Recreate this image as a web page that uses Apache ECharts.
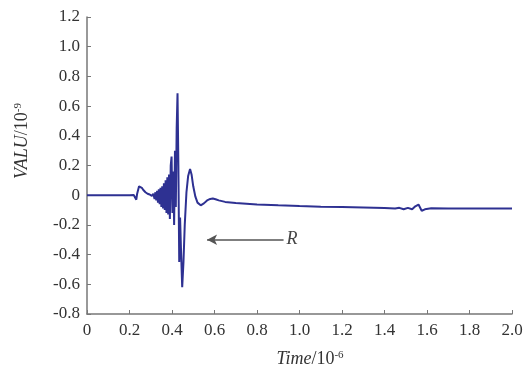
<!DOCTYPE html>
<html>
<head>
<meta charset="utf-8">
<script src="https://cdn.jsdelivr.net/npm/echarts@6/dist/echarts.min.js"></script>
<style>
  html, body { margin: 0; padding: 0; background: #fff; }
  #main { width: 528px; height: 369px; }
</style>
</head>
<body>
<div id="main"></div>
<script>
// time in units of 1e-6
var times = [0, 0.1, 0.2, 0.22, 0.228, 0.232, 0.236, 0.245, 0.252, 0.258, 0.265, 0.275, 0.285, 0.295,
  0.305, 0.312, 0.318, 0.322, 0.326, 0.33, 0.334, 0.338, 0.342, 0.346, 0.35, 0.354, 0.358, 0.362,
  0.366, 0.37, 0.374, 0.378, 0.382, 0.386, 0.39, 0.394, 0.398, 0.402, 0.406, 0.41, 0.414, 0.418,
  0.422, 0.426, 0.43, 0.434, 0.438, 0.442, 0.448, 0.454, 0.46, 0.468, 0.476, 0.485, 0.492, 0.5,
  0.51, 0.52, 0.535, 0.55, 0.565, 0.58, 0.592, 0.605, 0.62, 0.65, 0.7, 0.8, 0.9, 1.0, 1.1, 1.2,
  1.3, 1.4, 1.45, 1.47, 1.49, 1.51, 1.53, 1.545, 1.56, 1.575, 1.59, 1.62, 1.7, 1.8, 1.9, 2.0];
// values in units of 1e-9
var values = [0, 0, 0, 0.002, -0.01, -0.03, 0.01, 0.06, 0.068, 0.05, 0.035, 0.02, 0.01, 0.005,
  -0.005, 0.01, -0.025, 0.02, -0.035, 0.03, -0.05, 0.04, -0.06, 0.05, -0.08, 0.06, -0.09, 0.08,
  -0.1, 0.1, -0.12, 0.12, -0.13, 0.14, -0.16, 0.2, 0.26, -0.12, 0.16, -0.2, 0.3, -0.08,
  0.45, 0.687, 0.2, -0.45, -0.15, -0.35, -0.62, -0.45, -0.2, 0.02, 0.13, 0.176, 0.14, 0.06,
  -0.01, -0.05, -0.068, -0.055, -0.035, -0.025, -0.022, -0.027, -0.035, -0.045, -0.052, -0.062, -0.068, -0.073, -0.077, -0.08,
  -0.083, -0.086, -0.09, -0.085, -0.095, -0.085, -0.095, -0.075, -0.063, -0.105, -0.095, -0.088, -0.09, -0.09, -0.09, -0.09];

var xRange = [0, 2.0];
var yRange = [-0.8, 1.2];
var arrowFrom = [0.925, -0.3];
var arrowTo = [0.565, -0.3];
var arrowLabelAt = [0.965, -0.3];

var serif = "'Liberation Serif', 'Times New Roman', serif";
var fmt = function (v) { return Math.abs(v) < 1e-9 ? '0' : v.toFixed(1); };

var chart = echarts.init(document.getElementById('main'));
chart.setOption({
  animation: false,
  backgroundColor: '#fff',
  grid: { left: 87, right: 16, top: 17, bottom: 55 },
  xAxis: {
    type: 'value', min: xRange[0], max: xRange[1], interval: 0.2,
    axisLine: { show: true, onZero: false, lineStyle: { color: '#777', width: 1.5 } },
    axisTick: { show: true, inside: true, length: 4, lineStyle: { color: '#777' } },
    splitLine: { show: false },
    axisLabel: { formatter: fmt, color: '#333', fontFamily: serif, fontSize: 17, margin: 8 }
  },
  yAxis: {
    type: 'value', min: yRange[0], max: yRange[1], interval: 0.2,
    axisLine: { show: true, onZero: false, lineStyle: { color: '#777', width: 1.5 } },
    axisTick: { show: true, inside: true, length: 4, lineStyle: { color: '#777' } },
    splitLine: { show: false },
    axisLabel: { formatter: fmt, color: '#333', fontFamily: serif, fontSize: 17, margin: 7 }
  },
  graphic: [
    {
      type: 'text', x: 22, y: 141, rotation: Math.PI / 2,
      style: {
        text: '{i|VALU}/10{s|-9}',
        align: 'center', verticalAlign: 'middle',
        fill: '#333', font: '18px ' + serif,
        rich: {
          i: { fontStyle: 'italic', fontFamily: serif, fontSize: 18 },
          s: { fontFamily: serif, fontSize: 11, verticalAlign: 'top', padding: [0, 0, 8, 0] }
        }
      }
    },
    {
      type: 'text', x: 310, y: 359,
      style: {
        text: '{i|Time}/10{s|-6}',
        align: 'center', verticalAlign: 'middle',
        fill: '#333', font: '18px ' + serif,
        rich: {
          i: { fontStyle: 'italic', fontFamily: serif, fontSize: 18 },
          s: { fontFamily: serif, fontSize: 11, verticalAlign: 'top', padding: [0, 0, 8, 0] }
        }
      }
    }
  ],
  series: [{
    type: 'line',
    data: times.map(function (t, i) { return [t, values[i]]; }),
    showSymbol: false,
    lineStyle: { color: '#2e3192', width: 2 },
    markLine: {
      silent: true,
      symbol: ['none', 'arrow'],
      symbolSize: [8, 10],
      label: { show: false },
      lineStyle: { color: '#555', width: 1.5, type: 'solid' },
      data: [[{ coord: arrowFrom }, { coord: arrowTo }]]
    },
    markPoint: {
      silent: true,
      symbol: 'circle', symbolSize: 0,
      label: { show: true, formatter: 'R', color: '#444', fontFamily: serif, fontStyle: 'italic', fontSize: 18, position: 'inside' },
      data: [{ coord: arrowLabelAt }]
    }
  }]
});
</script>
</body>
</html>
